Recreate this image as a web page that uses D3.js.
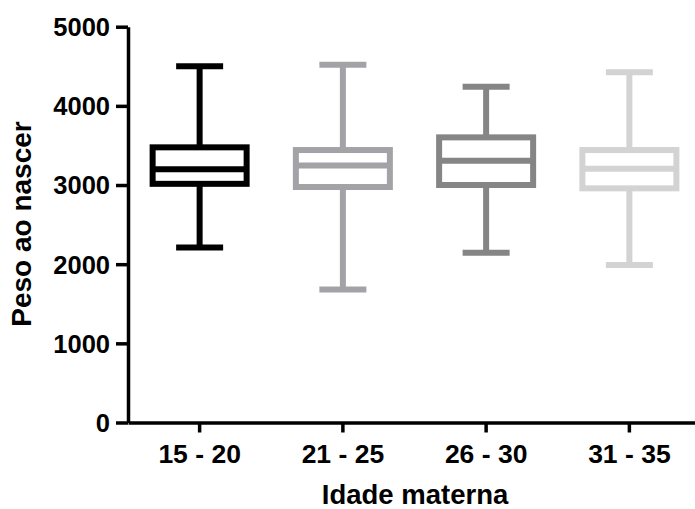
<!DOCTYPE html>
<html>
<head>
<meta charset="utf-8">
<script src="https://cdn.jsdelivr.net/npm/d3@7"></script>
<style>
html,body{margin:0;padding:0;background:#fff;}
svg{display:block;}
text{font-family:"Liberation Sans",Arial,sans-serif;font-weight:bold;fill:#000;}
</style>
</head>
<body>
<svg id="chart" width="695" height="509"></svg>
<script>
const categories = ["15 - 20", "21 - 25", "26 - 30", "31 - 35"];
const minValues = [2210, 1680, 2145, 1990];
const q1Values = [3015, 2975, 3000, 2958];
const medianValues = [3198, 3248, 3307, 3204];
const q3Values = [3476, 3442, 3602, 3442];
const maxValues = [4500, 4520, 4240, 4426];
const yTicks = [0, 1000, 2000, 3000, 4000, 5000];
const colors = ["#000000", "#a3a3a7", "#858585", "#d3d3d3"];

const svg = d3.select("#chart");
const x = d3.scaleBand().domain(categories).range([128, 701]).padding(0);
const y = d3.scaleLinear().domain([0, 5000]).range([422.5, 26.7]);

const data = categories.map((c, i) => ({
  c, min: minValues[i], q1: q1Values[i], med: medianValues[i], q3: q3Values[i], max: maxValues[i], color: colors[i]
}));

const boxW = 94, capW = 47, sw = 6;
const g = svg.append("g");
data.forEach(d => {
  const cx = x(d.c) + x.bandwidth() / 2;
  const gg = g.append("g").attr("stroke", d.color).attr("stroke-width", sw).attr("fill", "none");
  gg.append("line").attr("x1", cx).attr("x2", cx).attr("y1", y(d.max)).attr("y2", y(d.q3));
  gg.append("line").attr("x1", cx).attr("x2", cx).attr("y1", y(d.q1)).attr("y2", y(d.min));
  gg.append("line").attr("x1", cx - capW / 2).attr("x2", cx + capW / 2).attr("y1", y(d.max)).attr("y2", y(d.max));
  gg.append("line").attr("x1", cx - capW / 2).attr("x2", cx + capW / 2).attr("y1", y(d.min)).attr("y2", y(d.min));
  gg.append("rect").attr("x", cx - boxW / 2).attr("width", boxW)
    .attr("y", y(d.q3)).attr("height", y(d.q1) - y(d.q3));
  gg.append("line").attr("x1", cx - boxW / 2).attr("x2", cx + boxW / 2).attr("y1", y(d.med)).attr("y2", y(d.med));
});

// Y axis
const yAxis = svg.append("g").attr("transform", "translate(128,0)")
  .call(d3.axisLeft(y).tickValues(yTicks).tickSize(12).tickSizeOuter(0).tickPadding(6).tickFormat(d3.format("d")));
yAxis.select(".domain").attr("stroke", "#000").attr("stroke-width", 3.5);
yAxis.selectAll(".tick line").attr("stroke", "#000").attr("stroke-width", 3.5);
yAxis.selectAll(".tick text").style("font-size", "25.5px").attr("dy", "0.35em");

// X axis
const xAxis = svg.append("g").attr("transform", "translate(0,422.5)")
  .call(d3.axisBottom(x).tickSize(10).tickSizeOuter(0).tickPadding(12));
xAxis.select(".domain").attr("stroke", "#000").attr("stroke-width", 3.5);
xAxis.selectAll(".tick line").attr("stroke", "#000").attr("stroke-width", 3.5);
xAxis.selectAll(".tick text").style("font-size", "26.5px");

// Titles
svg.append("text").attr("transform", "translate(31,224) rotate(-90)")
  .attr("text-anchor", "middle").style("font-size", "28px").style("font-weight", "600").text("Peso ao nascer");
svg.append("text").attr("x", 415).attr("y", 504)
  .attr("text-anchor", "middle").style("font-size", "27.5px").style("font-weight", "600").text("Idade materna");
</script>
</body>
</html>
